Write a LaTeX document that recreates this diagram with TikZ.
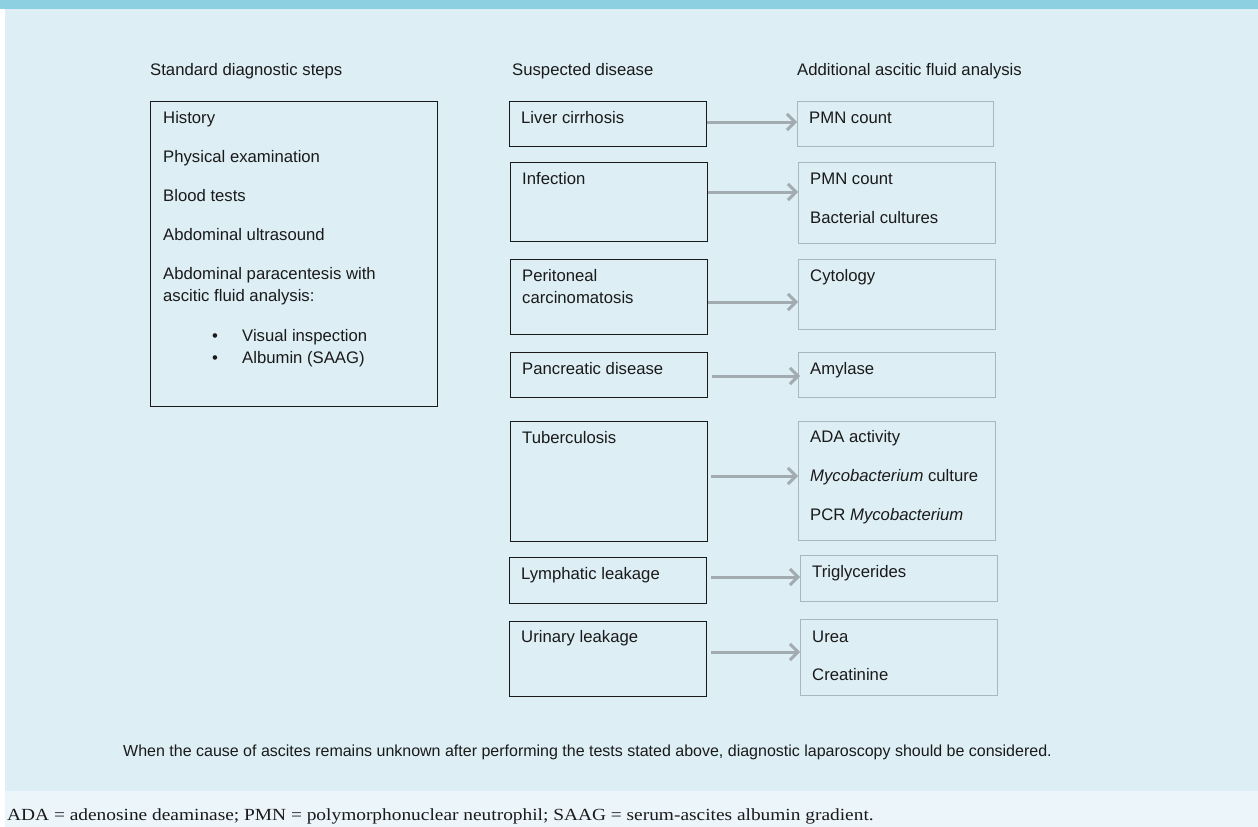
\documentclass[tikz,border=0pt]{standalone}
\usepackage{fontspec}
\setmainfont{Liberation Sans}
\newfontfamily\fnserif[FakeStretch=1.14]{Liberation Serif}
\usetikzlibrary{arrows.meta}
\definecolor{topbar}{HTML}{8DD0E2}
\definecolor{panel}{HTML}{DDEEF5}
\definecolor{fnband}{HTML}{ECF5F9}
\definecolor{boxgray}{HTML}{A9B8C0}
\definecolor{arrgray}{HTML}{A2ACB0}
\definecolor{ink}{HTML}{1A1A1A}
\newcommand\fs{\fontsize{16.7}{20}\selectfont}
\tikzset{
  bbox/.style={draw=ink, line width=1.3pt, inner sep=0pt, anchor=north west},
  gbox/.style={draw=boxgray, line width=1.3pt, inner sep=0pt, anchor=north west},
  txt/.style={anchor=base west, inner sep=0pt, font=\fs, text=ink},
  arr/.style={draw=arrgray, line width=3pt, -{Straight Barb[length=8pt,width=16pt,line width=3pt]}},
}
\begin{document}
\begin{tikzpicture}[x=1pt,y=-1pt]
\useasboundingbox (0,0) rectangle (1258,827);
\fill[white] (0,0) rectangle (1258,827);
\fill[panel] (5,9) rectangle (1258,791);
\fill[fnband] (5,791) rectangle (1258,827);
\fill[topbar] (0,0) rectangle (1258,9);

% headers
\node[txt] (h1) at (150,75) {Standard diagnostic steps};
\node[txt] (h2) at (512,75) {Suspected disease};
\node[txt] (h3) at (797,75) {Additional ascitic fluid analysis};

% left box
\node[bbox, minimum width=287pt, minimum height=305pt] (L) at (150,101) {};
\node[txt] (l1) at (163,123) {History};
\node[txt] (l2) at (163,162) {Physical examination};
\node[txt] (l3) at (163,201) {Blood tests};
\node[txt] (l4) at (163,240) {Abdominal ultrasound};
\node[txt] (l5) at (163,279) {Abdominal paracentesis with};
\node[txt] (l6) at (163,301) {ascitic fluid analysis:};
\node[txt] (b1) at (212,341) {•};
\node[txt] (l7) at (242,341) {Visual inspection};
\node[txt] (b2) at (212,363) {•};
\node[txt] (l8) at (242,363) {Albumin (SAAG)};

% middle boxes
\node[bbox, minimum width=197pt, minimum height=45pt] (m1) at (509,101) {};
\node[bbox, minimum width=197pt, minimum height=79pt] (m2) at (510,162) {};
\node[bbox, minimum width=197pt, minimum height=75pt] (m3) at (510,259) {};
\node[bbox, minimum width=197pt, minimum height=45pt] (m4) at (510,352) {};
\node[bbox, minimum width=197pt, minimum height=120pt] (m5) at (510,421) {};
\node[bbox, minimum width=197pt, minimum height=46pt] (m6) at (509,557) {};
\node[bbox, minimum width=197pt, minimum height=75pt] (m7) at (509,621) {};

\node[txt] (mt1) at (521,123) {Liver cirrhosis};
\node[txt] (mt2) at (522,184) {Infection};
\node[txt] (mt3) at (522,281) {Peritoneal};
\node[txt] (mt3b) at (522,303) {carcinomatosis};
\node[txt] (mt4) at (522,374) {Pancreatic disease};
\node[txt] (mt5) at (522,443) {Tuberculosis};
\node[txt] (mt6) at (521,579) {Lymphatic leakage};
\node[txt] (mt7) at (521,642) {Urinary leakage};

% right boxes
\node[gbox, minimum width=196pt, minimum height=45pt] (r1) at (797,101) {};
\node[gbox, minimum width=197pt, minimum height=81pt] (r2) at (798,162) {};
\node[gbox, minimum width=197pt, minimum height=70pt] (r3) at (798,259) {};
\node[gbox, minimum width=197pt, minimum height=45pt] (r4) at (798,352) {};
\node[gbox, minimum width=197pt, minimum height=119pt] (r5) at (798,421) {};
\node[gbox, minimum width=197pt, minimum height=46pt] (r6) at (800,555) {};
\node[gbox, minimum width=197pt, minimum height=76pt] (r7) at (800,619) {};

\node[txt] (rt1) at (809,123) {PMN count};
\node[txt] (rt2) at (810,184) {PMN count};
\node[txt] (rt2b) at (810,223) {Bacterial cultures};
\node[txt] (rt3) at (810,281) {Cytology};
\node[txt] (rt4) at (810,374) {Amylase};
\node[txt] (rt5) at (810,442) {ADA activity};
\node[txt] (rt5b) at (810,481) {\textit{Mycobacterium} culture};
\node[txt] (rt5c) at (810,520) {PCR \textit{Mycobacterium}};
\node[txt] (rt6) at (812,577) {Triglycerides};
\node[txt] (rt7) at (812,642) {Urea};
\node[txt] (rt7b) at (812,680) {Creatinine};

% arrows
\draw[arr] (m1.east |- 0,122) -- (r1.west |- 0,122);
\draw[arr] (m2.east |- 0,192) -- (r2.west |- 0,192);
\draw[arr] (m3.east |- 0,302) -- (r3.west |- 0,302);
\draw[arr] ([xshift=4pt]m4.east |- 0,376) -- ([xshift=2pt]r4.west |- 0,376);
\draw[arr] ([xshift=3pt]m5.east |- 0,476) -- (r5.west |- 0,476);
\draw[arr] ([xshift=4pt]m6.east |- 0,577) -- (r6.west |- 0,577);
\draw[arr] ([xshift=4pt]m7.east |- 0,652) -- (r7.west |- 0,652);

% bottom note
\node[txt, font=\fontsize{16.0}{20}\selectfont] (note) at (123,756) {When the cause of ascites remains unknown after performing the tests stated above, diagnostic laparoscopy should be considered.};
\node[anchor=base west, inner sep=0pt, font=\fnserif\fontsize{17}{20}\selectfont, text=ink] (fn) at (7,820) {ADA = adenosine deaminase; PMN = polymorphonuclear neutrophil; SAAG = serum-ascites albumin gradient.};
\end{tikzpicture}
\end{document}
